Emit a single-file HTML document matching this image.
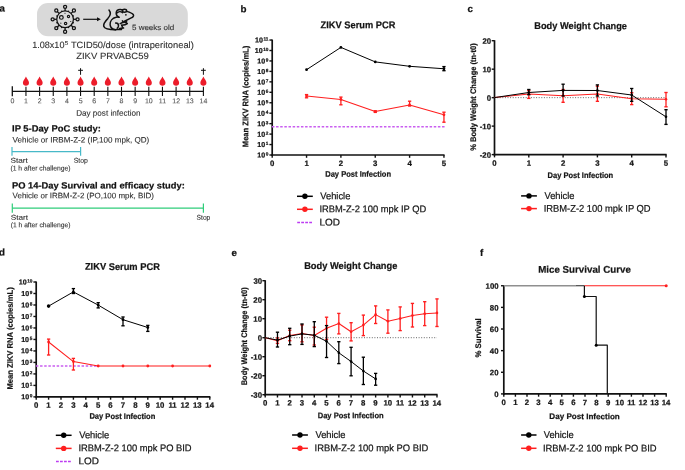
<!DOCTYPE html>
<html><head><meta charset="utf-8"><style>
html,body{margin:0;padding:0;background:#fff;width:685px;height:470px;overflow:hidden}
svg{display:block;font-family:"Liberation Sans",sans-serif;will-change:transform}
.t text{paint-order:stroke}
</style></head><body>
<svg width="685" height="470" viewBox="0 0 685 470">
<g style="will-change:transform">
<line x1="272.2" y1="39.55" x2="272.2" y2="155.9" stroke="#111" stroke-width="1.7" />
<line x1="269.4" y1="155" x2="272.2" y2="155" stroke="#111" stroke-width="1.4" />
<line x1="269.4" y1="144.55" x2="272.2" y2="144.55" stroke="#111" stroke-width="1.4" />
<line x1="269.4" y1="134.1" x2="272.2" y2="134.1" stroke="#111" stroke-width="1.4" />
<line x1="269.4" y1="123.65" x2="272.2" y2="123.65" stroke="#111" stroke-width="1.4" />
<line x1="269.4" y1="113.2" x2="272.2" y2="113.2" stroke="#111" stroke-width="1.4" />
<line x1="269.4" y1="102.75" x2="272.2" y2="102.75" stroke="#111" stroke-width="1.4" />
<line x1="269.4" y1="92.3" x2="272.2" y2="92.3" stroke="#111" stroke-width="1.4" />
<line x1="269.4" y1="81.85" x2="272.2" y2="81.85" stroke="#111" stroke-width="1.4" />
<line x1="269.4" y1="71.4" x2="272.2" y2="71.4" stroke="#111" stroke-width="1.4" />
<line x1="269.4" y1="60.95" x2="272.2" y2="60.95" stroke="#111" stroke-width="1.4" />
<line x1="269.4" y1="50.5" x2="272.2" y2="50.5" stroke="#111" stroke-width="1.4" />
<line x1="269.4" y1="40.05" x2="272.2" y2="40.05" stroke="#111" stroke-width="1.4" />
<line x1="271.35" y1="155" x2="444.55" y2="155" stroke="#111" stroke-width="1.7" />
<line x1="272.2" y1="155" x2="272.2" y2="157.8" stroke="#111" stroke-width="1.4" />
<line x1="306.55" y1="155" x2="306.55" y2="157.8" stroke="#111" stroke-width="1.4" />
<line x1="340.9" y1="155" x2="340.9" y2="157.8" stroke="#111" stroke-width="1.4" />
<line x1="375.25" y1="155" x2="375.25" y2="157.8" stroke="#111" stroke-width="1.4" />
<line x1="409.6" y1="155" x2="409.6" y2="157.8" stroke="#111" stroke-width="1.4" />
<line x1="443.95" y1="155" x2="443.95" y2="157.8" stroke="#111" stroke-width="1.4" />
<line x1="271.9" y1="126.8" x2="444.6" y2="126.8" stroke="#c95ef0" stroke-width="1.5" stroke-dasharray="2.5 1.65"/>
<polyline points="306.55,96.1 340.9,99.4 375.25,111.6 409.6,104.9 443.95,114.8" fill="none" stroke="#ff1f1f" stroke-width="1.05" stroke-linejoin="round" />
<line x1="306.55" y1="94.6" x2="306.55" y2="97.8" stroke="#ff1f1f" stroke-width="1.3" />
<line x1="304.9" y1="94.6" x2="308.2" y2="94.6" stroke="#ff1f1f" stroke-width="1.35" />
<line x1="304.9" y1="97.8" x2="308.2" y2="97.8" stroke="#ff1f1f" stroke-width="1.35" />
<circle cx="306.55" cy="96.1" r="1.4" fill="#ff1f1f"/>
<line x1="340.9" y1="97.1" x2="340.9" y2="104.8" stroke="#ff1f1f" stroke-width="1.3" />
<line x1="339.25" y1="97.1" x2="342.55" y2="97.1" stroke="#ff1f1f" stroke-width="1.35" />
<line x1="339.25" y1="104.8" x2="342.55" y2="104.8" stroke="#ff1f1f" stroke-width="1.35" />
<circle cx="340.9" cy="99.4" r="1.4" fill="#ff1f1f"/>
<line x1="375.25" y1="110.8" x2="375.25" y2="112.4" stroke="#ff1f1f" stroke-width="1.3" />
<line x1="373.6" y1="110.8" x2="376.9" y2="110.8" stroke="#ff1f1f" stroke-width="1.35" />
<line x1="373.6" y1="112.4" x2="376.9" y2="112.4" stroke="#ff1f1f" stroke-width="1.35" />
<circle cx="375.25" cy="111.6" r="1.4" fill="#ff1f1f"/>
<line x1="409.6" y1="101.2" x2="409.6" y2="106" stroke="#ff1f1f" stroke-width="1.3" />
<line x1="407.95" y1="101.2" x2="411.25" y2="101.2" stroke="#ff1f1f" stroke-width="1.35" />
<line x1="407.95" y1="106" x2="411.25" y2="106" stroke="#ff1f1f" stroke-width="1.35" />
<circle cx="409.6" cy="104.9" r="1.4" fill="#ff1f1f"/>
<line x1="443.95" y1="112.2" x2="443.95" y2="122.2" stroke="#ff1f1f" stroke-width="1.3" />
<line x1="442.3" y1="112.2" x2="445.6" y2="112.2" stroke="#ff1f1f" stroke-width="1.35" />
<line x1="442.3" y1="122.2" x2="445.6" y2="122.2" stroke="#ff1f1f" stroke-width="1.35" />
<circle cx="443.95" cy="114.8" r="1.4" fill="#ff1f1f"/>
<polyline points="306.55,69.7 340.9,47.4 375.25,61.9 409.6,66.3 443.95,68.75" fill="none" stroke="#000" stroke-width="1" stroke-linejoin="round" />
<circle cx="306.55" cy="69.7" r="1.4" fill="#000"/>
<circle cx="340.9" cy="47.4" r="1.4" fill="#000"/>
<circle cx="375.25" cy="61.9" r="1.4" fill="#000"/>
<circle cx="409.6" cy="66.3" r="1.4" fill="#000"/>
<circle cx="443.95" cy="68.75" r="1.4" fill="#000"/>
<line x1="443.95" y1="66.6" x2="443.95" y2="70.7" stroke="#000" stroke-width="1.3" />
<line x1="442.3" y1="66.6" x2="445.6" y2="66.6" stroke="#000" stroke-width="1.35" />
<line x1="442.3" y1="70.7" x2="445.6" y2="70.7" stroke="#000" stroke-width="1.35" />
<line x1="297" y1="196.3" x2="312.8" y2="196.3" stroke="#000" stroke-width="1.5" />
<circle cx="304.9" cy="196.3" r="2.7" fill="#000"/>
<line x1="297" y1="209.3" x2="312.8" y2="209.3" stroke="#ff1f1f" stroke-width="1.5" />
<circle cx="304.9" cy="209.3" r="2.7" fill="#ff1f1f"/>
<line x1="297.2" y1="222.4" x2="312.8" y2="222.4" stroke="#bd3cf2" stroke-width="1.5" stroke-dasharray="2.8 1.2"/>
<line x1="494.5" y1="40.2" x2="494.5" y2="155.5" stroke="#111" stroke-width="1.7" />
<line x1="491.7" y1="40.7" x2="494.5" y2="40.7" stroke="#111" stroke-width="1.4" />
<line x1="491.7" y1="69.18" x2="494.5" y2="69.18" stroke="#111" stroke-width="1.4" />
<line x1="491.7" y1="97.65" x2="494.5" y2="97.65" stroke="#111" stroke-width="1.4" />
<line x1="491.7" y1="126.12" x2="494.5" y2="126.12" stroke="#111" stroke-width="1.4" />
<line x1="491.7" y1="154.6" x2="494.5" y2="154.6" stroke="#111" stroke-width="1.4" />
<line x1="493.65" y1="154.6" x2="666.6" y2="154.6" stroke="#111" stroke-width="1.7" />
<line x1="494.5" y1="154.6" x2="494.5" y2="157.4" stroke="#111" stroke-width="1.4" />
<line x1="528.8" y1="154.6" x2="528.8" y2="157.4" stroke="#111" stroke-width="1.4" />
<line x1="563.1" y1="154.6" x2="563.1" y2="157.4" stroke="#111" stroke-width="1.4" />
<line x1="597.4" y1="154.6" x2="597.4" y2="157.4" stroke="#111" stroke-width="1.4" />
<line x1="631.7" y1="154.6" x2="631.7" y2="157.4" stroke="#111" stroke-width="1.4" />
<line x1="666" y1="154.6" x2="666" y2="157.4" stroke="#111" stroke-width="1.4" />
<line x1="494.5" y1="97.65" x2="666" y2="97.65" stroke="#555" stroke-width="0.9" stroke-dasharray="1 1.6"/>
<polyline points="494.5,97.6 528.8,94 563.1,95.8 597.4,94 631.7,98.7 666,99.2" fill="none" stroke="#ff1f1f" stroke-width="1.05" stroke-linejoin="round" />
<line x1="528.8" y1="90.6" x2="528.8" y2="98.4" stroke="#ff1f1f" stroke-width="1.3" />
<line x1="527.15" y1="90.6" x2="530.45" y2="90.6" stroke="#ff1f1f" stroke-width="1.35" />
<line x1="527.15" y1="98.4" x2="530.45" y2="98.4" stroke="#ff1f1f" stroke-width="1.35" />
<circle cx="528.8" cy="94" r="1.3" fill="#ff1f1f"/>
<line x1="563.1" y1="89.5" x2="563.1" y2="102.3" stroke="#ff1f1f" stroke-width="1.3" />
<line x1="561.45" y1="89.5" x2="564.75" y2="89.5" stroke="#ff1f1f" stroke-width="1.35" />
<line x1="561.45" y1="102.3" x2="564.75" y2="102.3" stroke="#ff1f1f" stroke-width="1.35" />
<circle cx="563.1" cy="95.8" r="1.3" fill="#ff1f1f"/>
<line x1="597.4" y1="86.2" x2="597.4" y2="101.3" stroke="#ff1f1f" stroke-width="1.3" />
<line x1="595.75" y1="86.2" x2="599.05" y2="86.2" stroke="#ff1f1f" stroke-width="1.35" />
<line x1="595.75" y1="101.3" x2="599.05" y2="101.3" stroke="#ff1f1f" stroke-width="1.35" />
<circle cx="597.4" cy="94" r="1.3" fill="#ff1f1f"/>
<line x1="631.7" y1="92.7" x2="631.7" y2="104.6" stroke="#ff1f1f" stroke-width="1.3" />
<line x1="630.05" y1="92.7" x2="633.35" y2="92.7" stroke="#ff1f1f" stroke-width="1.35" />
<line x1="630.05" y1="104.6" x2="633.35" y2="104.6" stroke="#ff1f1f" stroke-width="1.35" />
<circle cx="631.7" cy="98.7" r="1.3" fill="#ff1f1f"/>
<line x1="666" y1="92.5" x2="666" y2="106.8" stroke="#ff1f1f" stroke-width="1.3" />
<line x1="664.35" y1="92.5" x2="667.65" y2="92.5" stroke="#ff1f1f" stroke-width="1.35" />
<line x1="664.35" y1="106.8" x2="667.65" y2="106.8" stroke="#ff1f1f" stroke-width="1.35" />
<circle cx="666" cy="99.2" r="1.3" fill="#ff1f1f"/>
<polyline points="494.5,97.6 528.8,92.5 563.1,90.4 597.4,90.5 631.7,95 666,116.8" fill="none" stroke="#000" stroke-width="1" stroke-linejoin="round" />
<line x1="528.8" y1="89.5" x2="528.8" y2="94.7" stroke="#000" stroke-width="1.3" />
<line x1="527.15" y1="89.5" x2="530.45" y2="89.5" stroke="#000" stroke-width="1.35" />
<line x1="527.15" y1="94.7" x2="530.45" y2="94.7" stroke="#000" stroke-width="1.35" />
<circle cx="528.8" cy="92.5" r="1.3" fill="#000"/>
<line x1="563.1" y1="84.2" x2="563.1" y2="96" stroke="#000" stroke-width="1.3" />
<line x1="561.45" y1="84.2" x2="564.75" y2="84.2" stroke="#000" stroke-width="1.35" />
<line x1="561.45" y1="96" x2="564.75" y2="96" stroke="#000" stroke-width="1.35" />
<circle cx="563.1" cy="90.4" r="1.3" fill="#000"/>
<line x1="597.4" y1="84.9" x2="597.4" y2="96" stroke="#000" stroke-width="1.3" />
<line x1="595.75" y1="84.9" x2="599.05" y2="84.9" stroke="#000" stroke-width="1.35" />
<line x1="595.75" y1="96" x2="599.05" y2="96" stroke="#000" stroke-width="1.35" />
<circle cx="597.4" cy="90.5" r="1.3" fill="#000"/>
<line x1="631.7" y1="88.5" x2="631.7" y2="101.3" stroke="#000" stroke-width="1.3" />
<line x1="630.05" y1="88.5" x2="633.35" y2="88.5" stroke="#000" stroke-width="1.35" />
<line x1="630.05" y1="101.3" x2="633.35" y2="101.3" stroke="#000" stroke-width="1.35" />
<circle cx="631.7" cy="95" r="1.3" fill="#000"/>
<line x1="666" y1="109.7" x2="666" y2="124.4" stroke="#000" stroke-width="1.3" />
<line x1="664.35" y1="109.7" x2="667.65" y2="109.7" stroke="#000" stroke-width="1.35" />
<line x1="664.35" y1="124.4" x2="667.65" y2="124.4" stroke="#000" stroke-width="1.35" />
<circle cx="666" cy="116.8" r="1.3" fill="#000"/>
<line x1="521.1" y1="195.9" x2="536.9" y2="195.9" stroke="#000" stroke-width="1.5" />
<circle cx="529" cy="195.9" r="2.7" fill="#000"/>
<line x1="521.1" y1="208.6" x2="536.9" y2="208.6" stroke="#ff1f1f" stroke-width="1.5" />
<circle cx="529" cy="208.6" r="2.7" fill="#ff1f1f"/>
<line x1="36.2" y1="281.5" x2="36.2" y2="397.8" stroke="#111" stroke-width="1.7" />
<line x1="33.4" y1="396.9" x2="36.2" y2="396.9" stroke="#111" stroke-width="1.4" />
<line x1="33.4" y1="385.41" x2="36.2" y2="385.41" stroke="#111" stroke-width="1.4" />
<line x1="33.4" y1="373.92" x2="36.2" y2="373.92" stroke="#111" stroke-width="1.4" />
<line x1="33.4" y1="362.43" x2="36.2" y2="362.43" stroke="#111" stroke-width="1.4" />
<line x1="33.4" y1="350.94" x2="36.2" y2="350.94" stroke="#111" stroke-width="1.4" />
<line x1="33.4" y1="339.45" x2="36.2" y2="339.45" stroke="#111" stroke-width="1.4" />
<line x1="33.4" y1="327.96" x2="36.2" y2="327.96" stroke="#111" stroke-width="1.4" />
<line x1="33.4" y1="316.47" x2="36.2" y2="316.47" stroke="#111" stroke-width="1.4" />
<line x1="33.4" y1="304.98" x2="36.2" y2="304.98" stroke="#111" stroke-width="1.4" />
<line x1="33.4" y1="293.49" x2="36.2" y2="293.49" stroke="#111" stroke-width="1.4" />
<line x1="33.4" y1="282" x2="36.2" y2="282" stroke="#111" stroke-width="1.4" />
<line x1="35.35" y1="396.9" x2="210.4" y2="396.9" stroke="#111" stroke-width="1.7" />
<line x1="36.2" y1="396.9" x2="36.2" y2="399.7" stroke="#111" stroke-width="1.4" />
<line x1="48.6" y1="396.9" x2="48.6" y2="399.7" stroke="#111" stroke-width="1.4" />
<line x1="61" y1="396.9" x2="61" y2="399.7" stroke="#111" stroke-width="1.4" />
<line x1="73.4" y1="396.9" x2="73.4" y2="399.7" stroke="#111" stroke-width="1.4" />
<line x1="85.8" y1="396.9" x2="85.8" y2="399.7" stroke="#111" stroke-width="1.4" />
<line x1="98.2" y1="396.9" x2="98.2" y2="399.7" stroke="#111" stroke-width="1.4" />
<line x1="110.6" y1="396.9" x2="110.6" y2="399.7" stroke="#111" stroke-width="1.4" />
<line x1="123" y1="396.9" x2="123" y2="399.7" stroke="#111" stroke-width="1.4" />
<line x1="135.4" y1="396.9" x2="135.4" y2="399.7" stroke="#111" stroke-width="1.4" />
<line x1="147.8" y1="396.9" x2="147.8" y2="399.7" stroke="#111" stroke-width="1.4" />
<line x1="160.2" y1="396.9" x2="160.2" y2="399.7" stroke="#111" stroke-width="1.4" />
<line x1="172.6" y1="396.9" x2="172.6" y2="399.7" stroke="#111" stroke-width="1.4" />
<line x1="185" y1="396.9" x2="185" y2="399.7" stroke="#111" stroke-width="1.4" />
<line x1="197.4" y1="396.9" x2="197.4" y2="399.7" stroke="#111" stroke-width="1.4" />
<line x1="209.8" y1="396.9" x2="209.8" y2="399.7" stroke="#111" stroke-width="1.4" />
<line x1="35.9" y1="366" x2="209.8" y2="366" stroke="#c95ef0" stroke-width="1.5" stroke-dasharray="2.5 1.65"/>
<polyline points="48.6,342 73.4,361.6 98.2,366" fill="none" stroke="#ff1f1f" stroke-width="1.05" stroke-linejoin="round" />
<line x1="98.2" y1="366" x2="209.8" y2="366" stroke="#ff8c8c" stroke-width="2" />
<line x1="48.6" y1="339.1" x2="48.6" y2="355" stroke="#ff1f1f" stroke-width="1.3" />
<line x1="46.95" y1="339.1" x2="50.25" y2="339.1" stroke="#ff1f1f" stroke-width="1.35" />
<line x1="46.95" y1="355" x2="50.25" y2="355" stroke="#ff1f1f" stroke-width="1.35" />
<line x1="73.4" y1="358.4" x2="73.4" y2="370" stroke="#ff1f1f" stroke-width="1.3" />
<line x1="71.75" y1="358.4" x2="75.05" y2="358.4" stroke="#ff1f1f" stroke-width="1.35" />
<line x1="71.75" y1="370" x2="75.05" y2="370" stroke="#ff1f1f" stroke-width="1.35" />
<circle cx="48.6" cy="342" r="1.4" fill="#ff1f1f"/>
<circle cx="73.4" cy="361.6" r="1.4" fill="#ff1f1f"/>
<circle cx="98.2" cy="366" r="1.4" fill="#ff1f1f"/>
<circle cx="123" cy="366" r="1.4" fill="#ff1f1f"/>
<circle cx="147.8" cy="366" r="1.4" fill="#ff1f1f"/>
<circle cx="172.6" cy="366" r="1.4" fill="#ff1f1f"/>
<circle cx="209.8" cy="366" r="1.4" fill="#ff1f1f"/>
<polyline points="48.6,306.1 73.4,291.9 98.2,305.1 123,319.7 147.8,327.5" fill="none" stroke="#000" stroke-width="1" stroke-linejoin="round" />
<circle cx="48.6" cy="306.1" r="1.8" fill="#000"/>
<line x1="73.4" y1="288.6" x2="73.4" y2="293.5" stroke="#000" stroke-width="1.3" />
<line x1="71.75" y1="288.6" x2="75.05" y2="288.6" stroke="#000" stroke-width="1.35" />
<line x1="71.75" y1="293.5" x2="75.05" y2="293.5" stroke="#000" stroke-width="1.35" />
<circle cx="73.4" cy="291.9" r="1.4" fill="#000"/>
<line x1="98.2" y1="302.7" x2="98.2" y2="307.9" stroke="#000" stroke-width="1.3" />
<line x1="96.55" y1="302.7" x2="99.85" y2="302.7" stroke="#000" stroke-width="1.35" />
<line x1="96.55" y1="307.9" x2="99.85" y2="307.9" stroke="#000" stroke-width="1.35" />
<circle cx="98.2" cy="305.1" r="1.4" fill="#000"/>
<line x1="123" y1="317" x2="123" y2="325.8" stroke="#000" stroke-width="1.3" />
<line x1="121.35" y1="317" x2="124.65" y2="317" stroke="#000" stroke-width="1.35" />
<line x1="121.35" y1="325.8" x2="124.65" y2="325.8" stroke="#000" stroke-width="1.35" />
<circle cx="123" cy="319.7" r="1.4" fill="#000"/>
<line x1="147.8" y1="325.4" x2="147.8" y2="331.4" stroke="#000" stroke-width="1.3" />
<line x1="146.15" y1="325.4" x2="149.45" y2="325.4" stroke="#000" stroke-width="1.35" />
<line x1="146.15" y1="331.4" x2="149.45" y2="331.4" stroke="#000" stroke-width="1.35" />
<circle cx="147.8" cy="327.5" r="1.4" fill="#000"/>
<line x1="55.8" y1="435.3" x2="71.6" y2="435.3" stroke="#000" stroke-width="1.5" />
<circle cx="63.7" cy="435.3" r="2.7" fill="#000"/>
<line x1="55.8" y1="448.4" x2="71.6" y2="448.4" stroke="#ff1f1f" stroke-width="1.5" />
<circle cx="63.7" cy="448.4" r="2.7" fill="#ff1f1f"/>
<line x1="56" y1="461.4" x2="71.6" y2="461.4" stroke="#bd3cf2" stroke-width="1.5" stroke-dasharray="2.8 1.2"/>
<line x1="265.2" y1="280.2" x2="265.2" y2="395.6" stroke="#111" stroke-width="1.7" />
<line x1="262.4" y1="280.7" x2="265.2" y2="280.7" stroke="#111" stroke-width="1.4" />
<line x1="262.4" y1="299.7" x2="265.2" y2="299.7" stroke="#111" stroke-width="1.4" />
<line x1="262.4" y1="318.7" x2="265.2" y2="318.7" stroke="#111" stroke-width="1.4" />
<line x1="262.4" y1="337.7" x2="265.2" y2="337.7" stroke="#111" stroke-width="1.4" />
<line x1="262.4" y1="356.7" x2="265.2" y2="356.7" stroke="#111" stroke-width="1.4" />
<line x1="262.4" y1="375.7" x2="265.2" y2="375.7" stroke="#111" stroke-width="1.4" />
<line x1="262.4" y1="394.7" x2="265.2" y2="394.7" stroke="#111" stroke-width="1.4" />
<line x1="264.35" y1="394.7" x2="437.58" y2="394.7" stroke="#111" stroke-width="1.7" />
<line x1="265.2" y1="394.7" x2="265.2" y2="397.5" stroke="#111" stroke-width="1.4" />
<line x1="277.47" y1="394.7" x2="277.47" y2="397.5" stroke="#111" stroke-width="1.4" />
<line x1="289.74" y1="394.7" x2="289.74" y2="397.5" stroke="#111" stroke-width="1.4" />
<line x1="302.01" y1="394.7" x2="302.01" y2="397.5" stroke="#111" stroke-width="1.4" />
<line x1="314.28" y1="394.7" x2="314.28" y2="397.5" stroke="#111" stroke-width="1.4" />
<line x1="326.55" y1="394.7" x2="326.55" y2="397.5" stroke="#111" stroke-width="1.4" />
<line x1="338.82" y1="394.7" x2="338.82" y2="397.5" stroke="#111" stroke-width="1.4" />
<line x1="351.09" y1="394.7" x2="351.09" y2="397.5" stroke="#111" stroke-width="1.4" />
<line x1="363.36" y1="394.7" x2="363.36" y2="397.5" stroke="#111" stroke-width="1.4" />
<line x1="375.63" y1="394.7" x2="375.63" y2="397.5" stroke="#111" stroke-width="1.4" />
<line x1="387.9" y1="394.7" x2="387.9" y2="397.5" stroke="#111" stroke-width="1.4" />
<line x1="400.17" y1="394.7" x2="400.17" y2="397.5" stroke="#111" stroke-width="1.4" />
<line x1="412.44" y1="394.7" x2="412.44" y2="397.5" stroke="#111" stroke-width="1.4" />
<line x1="424.71" y1="394.7" x2="424.71" y2="397.5" stroke="#111" stroke-width="1.4" />
<line x1="436.98" y1="394.7" x2="436.98" y2="397.5" stroke="#111" stroke-width="1.4" />
<line x1="265.2" y1="337.7" x2="436.98" y2="337.7" stroke="#555" stroke-width="0.9" stroke-dasharray="1 1.6"/>
<polyline points="265.2,337.7 277.47,340.7 289.74,335.5 302.01,333.5 314.28,335.5 326.55,328.3 338.82,323.5 351.09,331.8 363.36,325.1 375.63,314.6 387.9,321.3 400.17,318.6 412.44,315.5 424.71,313.7 436.98,312.9" fill="none" stroke="#ff1f1f" stroke-width="1.05" stroke-linejoin="round" />
<line x1="277.47" y1="338" x2="277.47" y2="343.4" stroke="#ff1f1f" stroke-width="1.3" />
<line x1="275.82" y1="338" x2="279.12" y2="338" stroke="#ff1f1f" stroke-width="1.35" />
<line x1="275.82" y1="343.4" x2="279.12" y2="343.4" stroke="#ff1f1f" stroke-width="1.35" />
<circle cx="277.47" cy="340.7" r="1.3" fill="#ff1f1f"/>
<line x1="289.74" y1="330.2" x2="289.74" y2="340.7" stroke="#ff1f1f" stroke-width="1.3" />
<line x1="288.09" y1="330.2" x2="291.39" y2="330.2" stroke="#ff1f1f" stroke-width="1.35" />
<line x1="288.09" y1="340.7" x2="291.39" y2="340.7" stroke="#ff1f1f" stroke-width="1.35" />
<circle cx="289.74" cy="335.5" r="1.3" fill="#ff1f1f"/>
<line x1="302.01" y1="325" x2="302.01" y2="341.8" stroke="#ff1f1f" stroke-width="1.3" />
<line x1="300.36" y1="325" x2="303.66" y2="325" stroke="#ff1f1f" stroke-width="1.35" />
<line x1="300.36" y1="341.8" x2="303.66" y2="341.8" stroke="#ff1f1f" stroke-width="1.35" />
<circle cx="302.01" cy="333.5" r="1.3" fill="#ff1f1f"/>
<line x1="314.28" y1="327.2" x2="314.28" y2="345" stroke="#ff1f1f" stroke-width="1.3" />
<line x1="312.63" y1="327.2" x2="315.93" y2="327.2" stroke="#ff1f1f" stroke-width="1.35" />
<line x1="312.63" y1="345" x2="315.93" y2="345" stroke="#ff1f1f" stroke-width="1.35" />
<circle cx="314.28" cy="335.5" r="1.3" fill="#ff1f1f"/>
<line x1="326.55" y1="317.2" x2="326.55" y2="339.4" stroke="#ff1f1f" stroke-width="1.3" />
<line x1="324.9" y1="317.2" x2="328.2" y2="317.2" stroke="#ff1f1f" stroke-width="1.35" />
<line x1="324.9" y1="339.4" x2="328.2" y2="339.4" stroke="#ff1f1f" stroke-width="1.35" />
<circle cx="326.55" cy="328.3" r="1.3" fill="#ff1f1f"/>
<line x1="338.82" y1="313.4" x2="338.82" y2="333.9" stroke="#ff1f1f" stroke-width="1.3" />
<line x1="337.17" y1="313.4" x2="340.47" y2="313.4" stroke="#ff1f1f" stroke-width="1.35" />
<line x1="337.17" y1="333.9" x2="340.47" y2="333.9" stroke="#ff1f1f" stroke-width="1.35" />
<circle cx="338.82" cy="323.5" r="1.3" fill="#ff1f1f"/>
<line x1="351.09" y1="322.7" x2="351.09" y2="340.9" stroke="#ff1f1f" stroke-width="1.3" />
<line x1="349.44" y1="322.7" x2="352.74" y2="322.7" stroke="#ff1f1f" stroke-width="1.35" />
<line x1="349.44" y1="340.9" x2="352.74" y2="340.9" stroke="#ff1f1f" stroke-width="1.35" />
<circle cx="351.09" cy="331.8" r="1.3" fill="#ff1f1f"/>
<line x1="363.36" y1="315.1" x2="363.36" y2="335.6" stroke="#ff1f1f" stroke-width="1.3" />
<line x1="361.71" y1="315.1" x2="365.01" y2="315.1" stroke="#ff1f1f" stroke-width="1.35" />
<line x1="361.71" y1="335.6" x2="365.01" y2="335.6" stroke="#ff1f1f" stroke-width="1.35" />
<circle cx="363.36" cy="325.1" r="1.3" fill="#ff1f1f"/>
<line x1="375.63" y1="305.9" x2="375.63" y2="323.5" stroke="#ff1f1f" stroke-width="1.3" />
<line x1="373.98" y1="305.9" x2="377.28" y2="305.9" stroke="#ff1f1f" stroke-width="1.35" />
<line x1="373.98" y1="323.5" x2="377.28" y2="323.5" stroke="#ff1f1f" stroke-width="1.35" />
<circle cx="375.63" cy="314.6" r="1.3" fill="#ff1f1f"/>
<line x1="387.9" y1="309.9" x2="387.9" y2="333.2" stroke="#ff1f1f" stroke-width="1.3" />
<line x1="386.25" y1="309.9" x2="389.55" y2="309.9" stroke="#ff1f1f" stroke-width="1.35" />
<line x1="386.25" y1="333.2" x2="389.55" y2="333.2" stroke="#ff1f1f" stroke-width="1.35" />
<circle cx="387.9" cy="321.3" r="1.3" fill="#ff1f1f"/>
<line x1="400.17" y1="306.9" x2="400.17" y2="330.6" stroke="#ff1f1f" stroke-width="1.3" />
<line x1="398.52" y1="306.9" x2="401.82" y2="306.9" stroke="#ff1f1f" stroke-width="1.35" />
<line x1="398.52" y1="330.6" x2="401.82" y2="330.6" stroke="#ff1f1f" stroke-width="1.35" />
<circle cx="400.17" cy="318.6" r="1.3" fill="#ff1f1f"/>
<line x1="412.44" y1="303.4" x2="412.44" y2="327" stroke="#ff1f1f" stroke-width="1.3" />
<line x1="410.79" y1="303.4" x2="414.09" y2="303.4" stroke="#ff1f1f" stroke-width="1.35" />
<line x1="410.79" y1="327" x2="414.09" y2="327" stroke="#ff1f1f" stroke-width="1.35" />
<circle cx="412.44" cy="315.5" r="1.3" fill="#ff1f1f"/>
<line x1="424.71" y1="301.7" x2="424.71" y2="325.6" stroke="#ff1f1f" stroke-width="1.3" />
<line x1="423.06" y1="301.7" x2="426.36" y2="301.7" stroke="#ff1f1f" stroke-width="1.35" />
<line x1="423.06" y1="325.6" x2="426.36" y2="325.6" stroke="#ff1f1f" stroke-width="1.35" />
<circle cx="424.71" cy="313.7" r="1.3" fill="#ff1f1f"/>
<line x1="436.98" y1="298.9" x2="436.98" y2="326.5" stroke="#ff1f1f" stroke-width="1.3" />
<line x1="435.33" y1="298.9" x2="438.63" y2="298.9" stroke="#ff1f1f" stroke-width="1.35" />
<line x1="435.33" y1="326.5" x2="438.63" y2="326.5" stroke="#ff1f1f" stroke-width="1.35" />
<circle cx="436.98" cy="312.9" r="1.3" fill="#ff1f1f"/>
<polyline points="265.2,337.7 277.47,340.1 289.74,336.1 302.01,333.9 314.28,335.2 326.55,341.3 338.82,352.8 351.09,361.5 363.36,371 375.63,378.9" fill="none" stroke="#000" stroke-width="1" stroke-linejoin="round" />
<line x1="277.47" y1="332.2" x2="277.47" y2="347" stroke="#000" stroke-width="1.3" />
<line x1="275.82" y1="332.2" x2="279.12" y2="332.2" stroke="#000" stroke-width="1.35" />
<line x1="275.82" y1="347" x2="279.12" y2="347" stroke="#000" stroke-width="1.35" />
<circle cx="277.47" cy="340.1" r="1.3" fill="#000"/>
<line x1="289.74" y1="328.3" x2="289.74" y2="344.7" stroke="#000" stroke-width="1.3" />
<line x1="288.09" y1="328.3" x2="291.39" y2="328.3" stroke="#000" stroke-width="1.35" />
<line x1="288.09" y1="344.7" x2="291.39" y2="344.7" stroke="#000" stroke-width="1.35" />
<circle cx="289.74" cy="336.1" r="1.3" fill="#000"/>
<line x1="302.01" y1="324" x2="302.01" y2="344.4" stroke="#000" stroke-width="1.3" />
<line x1="300.36" y1="324" x2="303.66" y2="324" stroke="#000" stroke-width="1.35" />
<line x1="300.36" y1="344.4" x2="303.66" y2="344.4" stroke="#000" stroke-width="1.35" />
<circle cx="302.01" cy="333.9" r="1.3" fill="#000"/>
<line x1="314.28" y1="321.7" x2="314.28" y2="346.6" stroke="#000" stroke-width="1.3" />
<line x1="312.63" y1="321.7" x2="315.93" y2="321.7" stroke="#000" stroke-width="1.35" />
<line x1="312.63" y1="346.6" x2="315.93" y2="346.6" stroke="#000" stroke-width="1.35" />
<circle cx="314.28" cy="335.2" r="1.3" fill="#000"/>
<line x1="326.55" y1="325.6" x2="326.55" y2="357.5" stroke="#000" stroke-width="1.3" />
<line x1="324.9" y1="325.6" x2="328.2" y2="325.6" stroke="#000" stroke-width="1.35" />
<line x1="324.9" y1="357.5" x2="328.2" y2="357.5" stroke="#000" stroke-width="1.35" />
<circle cx="326.55" cy="341.3" r="1.3" fill="#000"/>
<line x1="338.82" y1="341.7" x2="338.82" y2="363.6" stroke="#000" stroke-width="1.3" />
<line x1="337.17" y1="341.7" x2="340.47" y2="341.7" stroke="#000" stroke-width="1.35" />
<line x1="337.17" y1="363.6" x2="340.47" y2="363.6" stroke="#000" stroke-width="1.35" />
<circle cx="338.82" cy="352.8" r="1.3" fill="#000"/>
<line x1="351.09" y1="347.3" x2="351.09" y2="375.8" stroke="#000" stroke-width="1.3" />
<line x1="349.44" y1="347.3" x2="352.74" y2="347.3" stroke="#000" stroke-width="1.35" />
<line x1="349.44" y1="375.8" x2="352.74" y2="375.8" stroke="#000" stroke-width="1.35" />
<circle cx="351.09" cy="361.5" r="1.3" fill="#000"/>
<line x1="363.36" y1="357.2" x2="363.36" y2="384.5" stroke="#000" stroke-width="1.3" />
<line x1="361.71" y1="357.2" x2="365.01" y2="357.2" stroke="#000" stroke-width="1.35" />
<line x1="361.71" y1="384.5" x2="365.01" y2="384.5" stroke="#000" stroke-width="1.35" />
<circle cx="363.36" cy="371" r="1.3" fill="#000"/>
<line x1="375.63" y1="373.4" x2="375.63" y2="385.2" stroke="#000" stroke-width="1.3" />
<line x1="373.98" y1="373.4" x2="377.28" y2="373.4" stroke="#000" stroke-width="1.35" />
<line x1="373.98" y1="385.2" x2="377.28" y2="385.2" stroke="#000" stroke-width="1.35" />
<circle cx="375.63" cy="378.9" r="1.3" fill="#000"/>
<line x1="292.1" y1="435" x2="307.9" y2="435" stroke="#000" stroke-width="1.5" />
<circle cx="300" cy="435" r="2.7" fill="#000"/>
<line x1="292.1" y1="448.3" x2="307.9" y2="448.3" stroke="#ff1f1f" stroke-width="1.5" />
<circle cx="300" cy="448.3" r="2.7" fill="#ff1f1f"/>
<line x1="503.8" y1="285.25" x2="503.8" y2="394.8" stroke="#111" stroke-width="1.7" />
<line x1="501" y1="285.75" x2="503.8" y2="285.75" stroke="#111" stroke-width="1.4" />
<line x1="501" y1="307.38" x2="503.8" y2="307.38" stroke="#111" stroke-width="1.4" />
<line x1="501" y1="329.01" x2="503.8" y2="329.01" stroke="#111" stroke-width="1.4" />
<line x1="501" y1="350.64" x2="503.8" y2="350.64" stroke="#111" stroke-width="1.4" />
<line x1="501" y1="372.27" x2="503.8" y2="372.27" stroke="#111" stroke-width="1.4" />
<line x1="501" y1="393.9" x2="503.8" y2="393.9" stroke="#111" stroke-width="1.4" />
<line x1="502.95" y1="393.9" x2="666.8" y2="393.9" stroke="#111" stroke-width="1.7" />
<line x1="503.8" y1="393.9" x2="503.8" y2="396.7" stroke="#111" stroke-width="1.4" />
<line x1="515.4" y1="393.9" x2="515.4" y2="396.7" stroke="#111" stroke-width="1.4" />
<line x1="527" y1="393.9" x2="527" y2="396.7" stroke="#111" stroke-width="1.4" />
<line x1="538.6" y1="393.9" x2="538.6" y2="396.7" stroke="#111" stroke-width="1.4" />
<line x1="550.2" y1="393.9" x2="550.2" y2="396.7" stroke="#111" stroke-width="1.4" />
<line x1="561.8" y1="393.9" x2="561.8" y2="396.7" stroke="#111" stroke-width="1.4" />
<line x1="573.4" y1="393.9" x2="573.4" y2="396.7" stroke="#111" stroke-width="1.4" />
<line x1="585" y1="393.9" x2="585" y2="396.7" stroke="#111" stroke-width="1.4" />
<line x1="596.6" y1="393.9" x2="596.6" y2="396.7" stroke="#111" stroke-width="1.4" />
<line x1="608.2" y1="393.9" x2="608.2" y2="396.7" stroke="#111" stroke-width="1.4" />
<line x1="619.8" y1="393.9" x2="619.8" y2="396.7" stroke="#111" stroke-width="1.4" />
<line x1="631.4" y1="393.9" x2="631.4" y2="396.7" stroke="#111" stroke-width="1.4" />
<line x1="643" y1="393.9" x2="643" y2="396.7" stroke="#111" stroke-width="1.4" />
<line x1="654.6" y1="393.9" x2="654.6" y2="396.7" stroke="#111" stroke-width="1.4" />
<line x1="666.2" y1="393.9" x2="666.2" y2="396.7" stroke="#111" stroke-width="1.4" />
<line x1="503.8" y1="285.75" x2="575.8" y2="285.75" stroke="#8f8f8f" stroke-width="1.6" />
<line x1="575.8" y1="285.75" x2="584.4" y2="285.75" stroke="#222" stroke-width="1" />
<line x1="584.4" y1="285.75" x2="666.2" y2="285.75" stroke="#ff1f1f" stroke-width="1" />
<circle cx="666.2" cy="285.75" r="1.5" fill="#ff1f1f"/>
<polyline points="584.4,285.75 584.4,296.5 596.2,296.5 596.2,345.2 607.3,345.2 607.3,393.9" fill="none" stroke="#111" stroke-width="1.2" stroke-linejoin="round" stroke-linejoin="miter"/>
<circle cx="584.4" cy="296.5" r="1.5" fill="#000"/>
<circle cx="596.2" cy="345.2" r="1.5" fill="#000"/>
<line x1="521.1" y1="435" x2="536.5" y2="435" stroke="#000" stroke-width="1.5" />
<circle cx="528.8" cy="435" r="2.7" fill="#000"/>
<line x1="521.1" y1="448.3" x2="536.5" y2="448.3" stroke="#ff1f1f" stroke-width="1.5" />
<circle cx="528.8" cy="448.3" r="2.7" fill="#ff1f1f"/>
<rect x="37" y="3.1" width="150.8" height="33.1" rx="11" ry="11" fill="#d9d9d9"/>
<g stroke="#111" fill="none" stroke-width="1.25">
<circle cx="65.1" cy="19.3" r="8.35"/>
<line x1="65.1" y1="10.9" x2="65.1" y2="8.4"/>
<circle cx="65.1" cy="6.85" r="1.55"/>
<line x1="59.16" y1="13.36" x2="57.39" y2="11.59"/>
<circle cx="56.3" cy="10.5" r="1.55"/>
<line x1="56.7" y1="19.3" x2="54.2" y2="19.3"/>
<circle cx="52.65" cy="19.3" r="1.55"/>
<line x1="59.16" y1="25.24" x2="57.39" y2="27.01"/>
<circle cx="56.3" cy="28.1" r="1.55"/>
<line x1="65.1" y1="27.7" x2="65.1" y2="30.2"/>
<circle cx="65.1" cy="31.75" r="1.55"/>
<line x1="71.04" y1="25.24" x2="72.81" y2="27.01"/>
<circle cx="73.9" cy="28.1" r="1.55"/>
<line x1="73.5" y1="19.3" x2="76" y2="19.3"/>
<circle cx="77.55" cy="19.3" r="1.55"/>
<line x1="71.04" y1="13.36" x2="72.81" y2="11.59"/>
<circle cx="73.9" cy="10.5" r="1.55"/>
<circle cx="61.36" cy="17.4" r="1.85" stroke-width="1.2"/>
<circle cx="68.5" cy="16.45" r="1.1" stroke-width="1.15"/>
<circle cx="65.6" cy="23.5" r="1.2" stroke-width="1.15"/>
</g>
<circle cx="61.69" cy="11.08" r="0.7" fill="#111"/>
<circle cx="56.88" cy="15.89" r="0.7" fill="#111"/>
<circle cx="56.88" cy="22.71" r="0.7" fill="#111"/>
<circle cx="61.69" cy="27.52" r="0.7" fill="#111"/>
<circle cx="68.51" cy="27.52" r="0.7" fill="#111"/>
<circle cx="73.32" cy="22.71" r="0.7" fill="#111"/>
<circle cx="73.32" cy="15.89" r="0.7" fill="#111"/>
<circle cx="68.51" cy="11.08" r="0.7" fill="#111"/>
<circle cx="65" cy="13.25" r="0.55" fill="#111"/>
<circle cx="60.85" cy="23.15" r="0.55" fill="#111"/>
<circle cx="70.75" cy="21.55" r="0.55" fill="#111"/>
<line x1="83.2" y1="19.3" x2="99" y2="19.3" stroke="#111" stroke-width="1.2" />
<path d="M97.0 17.3 L100.9 19.3 L97.0 21.3 Z" fill="#111"/>
<g stroke="#111" fill="none" stroke-width="1.5" stroke-linecap="round" stroke-linejoin="round">
<path d="M109.0 10.1 C111.0 12.5 110.9 15.3 107.8 18.6 C104.6 21.8 103.2 24.4 103.8 26.6 C104.6 29.0 108.0 29.8 115.6 29.8"/>
<path d="M115.6 29.8 C112.4 29.4 110.3 27.2 110.1 24.6 C109.9 21.0 112.4 18.0 116.0 17.2 C117.2 16.9 118.3 17.0 119.0 17.3"/>
<path d="M119.0 17.3 C117.2 16.3 116.0 14.6 116.2 12.8 C116.4 10.6 118.4 9.4 120.4 9.5 C121.2 9.6 122.0 9.8 122.6 10.0"/>
<ellipse cx="124.5" cy="10.7" rx="2.1" ry="1.5"/>
<path d="M126.8 11.4 C129.4 12.1 132.4 13.4 133.4 14.8 C134.0 15.9 133.0 17.0 131.2 17.9 C129.0 19.0 126.6 20.2 124.0 21.5 C125.6 22.2 126.8 23.0 127.3 23.6 C126.2 24.4 123.6 25.1 121.7 25.3"/>
<path d="M117.3 12.8 C118.4 11.6 120.8 11.3 122.6 12.6"/>
<path d="M122.4 20.9 L123.4 22.4 M120.2 23.7 L123.6 22.0 M125.0 22.4 L126.6 21.6"/>
<path d="M115.7 23.1 C117.2 23.0 118.4 24.2 118.5 25.6 C118.6 26.8 118.0 27.6 117.3 28.1"/>
<path d="M116.2 29.6 L121.5 29.6 M119.5 28.4 L123.6 28.0 M121.7 25.3 L122.8 28.0"/>
</g>
<circle cx="125.9" cy="14.8" r="0.85" fill="#111"/>
<line x1="12.3" y1="91.3" x2="203.4" y2="91.3" stroke="#111" stroke-width="1.35" />
<line x1="12.3" y1="86.3" x2="12.3" y2="96.3" stroke="#111" stroke-width="1.3" />
<line x1="25.95" y1="86.8" x2="25.95" y2="96.1" stroke="#111" stroke-width="1.1" />
<line x1="39.6" y1="86.8" x2="39.6" y2="96.1" stroke="#111" stroke-width="1.1" />
<line x1="53.25" y1="86.8" x2="53.25" y2="96.1" stroke="#111" stroke-width="1.1" />
<line x1="66.9" y1="86.8" x2="66.9" y2="96.1" stroke="#111" stroke-width="1.1" />
<line x1="80.55" y1="86.8" x2="80.55" y2="96.1" stroke="#111" stroke-width="1.1" />
<line x1="94.2" y1="86.8" x2="94.2" y2="96.1" stroke="#111" stroke-width="1.1" />
<line x1="107.85" y1="86.8" x2="107.85" y2="96.1" stroke="#111" stroke-width="1.1" />
<line x1="121.5" y1="86.8" x2="121.5" y2="96.1" stroke="#111" stroke-width="1.1" />
<line x1="135.15" y1="86.8" x2="135.15" y2="96.1" stroke="#111" stroke-width="1.1" />
<line x1="148.8" y1="86.8" x2="148.8" y2="96.1" stroke="#111" stroke-width="1.1" />
<line x1="162.45" y1="86.8" x2="162.45" y2="96.1" stroke="#111" stroke-width="1.1" />
<line x1="176.1" y1="86.8" x2="176.1" y2="96.1" stroke="#111" stroke-width="1.1" />
<line x1="189.75" y1="86.8" x2="189.75" y2="96.1" stroke="#111" stroke-width="1.1" />
<line x1="203.4" y1="86.8" x2="203.4" y2="96.1" stroke="#111" stroke-width="1.1" />
<path d="M25.95 76.6 C24.95 79.2 22.9 80.6 22.9 82.8 C22.9 85.0 24.25 85.8 25.95 85.8 C27.65 85.8 29 85.0 29 82.8 C29 80.6 26.95 79.2 25.95 76.6 Z" fill="#ec1c2a"/>
<path d="M39.6 76.6 C38.6 79.2 36.55 80.6 36.55 82.8 C36.55 85.0 37.9 85.8 39.6 85.8 C41.3 85.8 42.65 85.0 42.65 82.8 C42.65 80.6 40.6 79.2 39.6 76.6 Z" fill="#ec1c2a"/>
<path d="M53.25 76.6 C52.25 79.2 50.2 80.6 50.2 82.8 C50.2 85.0 51.55 85.8 53.25 85.8 C54.95 85.8 56.3 85.0 56.3 82.8 C56.3 80.6 54.25 79.2 53.25 76.6 Z" fill="#ec1c2a"/>
<path d="M66.9 76.6 C65.9 79.2 63.85 80.6 63.85 82.8 C63.85 85.0 65.2 85.8 66.9 85.8 C68.6 85.8 69.95 85.0 69.95 82.8 C69.95 80.6 67.9 79.2 66.9 76.6 Z" fill="#ec1c2a"/>
<path d="M80.55 76.6 C79.55 79.2 77.5 80.6 77.5 82.8 C77.5 85.0 78.85 85.8 80.55 85.8 C82.25 85.8 83.6 85.0 83.6 82.8 C83.6 80.6 81.55 79.2 80.55 76.6 Z" fill="#ec1c2a"/>
<path d="M94.2 76.6 C93.2 79.2 91.15 80.6 91.15 82.8 C91.15 85.0 92.5 85.8 94.2 85.8 C95.9 85.8 97.25 85.0 97.25 82.8 C97.25 80.6 95.2 79.2 94.2 76.6 Z" fill="#ec1c2a"/>
<path d="M107.85 76.6 C106.85 79.2 104.8 80.6 104.8 82.8 C104.8 85.0 106.15 85.8 107.85 85.8 C109.55 85.8 110.9 85.0 110.9 82.8 C110.9 80.6 108.85 79.2 107.85 76.6 Z" fill="#ec1c2a"/>
<path d="M121.5 76.6 C120.5 79.2 118.45 80.6 118.45 82.8 C118.45 85.0 119.8 85.8 121.5 85.8 C123.2 85.8 124.55 85.0 124.55 82.8 C124.55 80.6 122.5 79.2 121.5 76.6 Z" fill="#ec1c2a"/>
<path d="M135.15 76.6 C134.15 79.2 132.1 80.6 132.1 82.8 C132.1 85.0 133.45 85.8 135.15 85.8 C136.85 85.8 138.2 85.0 138.2 82.8 C138.2 80.6 136.15 79.2 135.15 76.6 Z" fill="#ec1c2a"/>
<path d="M148.8 76.6 C147.8 79.2 145.75 80.6 145.75 82.8 C145.75 85.0 147.1 85.8 148.8 85.8 C150.5 85.8 151.85 85.0 151.85 82.8 C151.85 80.6 149.8 79.2 148.8 76.6 Z" fill="#ec1c2a"/>
<path d="M162.45 76.6 C161.45 79.2 159.4 80.6 159.4 82.8 C159.4 85.0 160.75 85.8 162.45 85.8 C164.15 85.8 165.5 85.0 165.5 82.8 C165.5 80.6 163.45 79.2 162.45 76.6 Z" fill="#ec1c2a"/>
<path d="M176.1 76.6 C175.1 79.2 173.05 80.6 173.05 82.8 C173.05 85.0 174.4 85.8 176.1 85.8 C177.8 85.8 179.15 85.0 179.15 82.8 C179.15 80.6 177.1 79.2 176.1 76.6 Z" fill="#ec1c2a"/>
<path d="M189.75 76.6 C188.75 79.2 186.7 80.6 186.7 82.8 C186.7 85.0 188.05 85.8 189.75 85.8 C191.45 85.8 192.8 85.0 192.8 82.8 C192.8 80.6 190.75 79.2 189.75 76.6 Z" fill="#ec1c2a"/>
<path d="M203.4 76.6 C202.4 79.2 200.35 80.6 200.35 82.8 C200.35 85.0 201.7 85.8 203.4 85.8 C205.1 85.8 206.45 85.0 206.45 82.8 C206.45 80.6 204.4 79.2 203.4 76.6 Z" fill="#ec1c2a"/>
<line x1="80.55" y1="68.2" x2="80.55" y2="74.8" stroke="#111" stroke-width="1" />
<line x1="78.15" y1="70.3" x2="82.95" y2="70.3" stroke="#111" stroke-width="1" />
<line x1="203.4" y1="68.2" x2="203.4" y2="74.8" stroke="#111" stroke-width="1" />
<line x1="201" y1="70.3" x2="205.8" y2="70.3" stroke="#111" stroke-width="1" />
<line x1="12" y1="151.7" x2="80.6" y2="151.7" stroke="#47b9c8" stroke-width="1.3" />
<line x1="12" y1="147" x2="12" y2="155.8" stroke="#47b9c8" stroke-width="1.2" />
<line x1="80.6" y1="147" x2="80.6" y2="155.8" stroke="#47b9c8" stroke-width="1.2" />
<line x1="12.3" y1="208.1" x2="203.4" y2="208.1" stroke="#2fcd7a" stroke-width="1.3" />
<line x1="12.3" y1="203.4" x2="12.3" y2="212.8" stroke="#2fcd7a" stroke-width="1.2" />
<line x1="203.4" y1="203.4" x2="203.4" y2="212.8" stroke="#2fcd7a" stroke-width="1.2" />
<g transform="rotate(0.03 342 235)" class="t">
<text x="-0.5" y="11.8" font-size="9.7" font-weight="bold" fill="#141414" stroke="#141414" stroke-width="0.22" text-anchor="start">a</text>
<text x="240.4" y="12.3" font-size="9.8" font-weight="bold" fill="#141414" stroke="#141414" stroke-width="0.22" text-anchor="start">b</text>
<text x="467.4" y="11.9" font-size="9.8" font-weight="bold" fill="#141414" stroke="#141414" stroke-width="0.22" text-anchor="start">c</text>
<text x="-0.9" y="255.8" font-size="9.8" font-weight="bold" fill="#141414" stroke="#141414" stroke-width="0.22" text-anchor="start">d</text>
<text x="231.5" y="256" font-size="9.8" font-weight="bold" fill="#141414" stroke="#141414" stroke-width="0.22" text-anchor="start">e</text>
<text x="479.9" y="256" font-size="9.8" font-weight="bold" fill="#141414" stroke="#141414" stroke-width="0.22" text-anchor="start">f</text>
<text x="320.52" y="28.3" font-size="9.8" font-weight="bold" fill="#141414" stroke="#141414" stroke-width="0.22" textLength="74.79" lengthAdjust="spacingAndGlyphs">ZIKV Serum PCR</text>
<text x="534.18" y="29" font-size="9.8" font-weight="bold" fill="#141414" stroke="#141414" stroke-width="0.22" textLength="92.72" lengthAdjust="spacingAndGlyphs">Body Weight Change</text>
<text x="84.92" y="270" font-size="9.8" font-weight="bold" fill="#141414" stroke="#141414" stroke-width="0.22" textLength="74.99" lengthAdjust="spacingAndGlyphs">ZIKV Serum PCR</text>
<text x="304.17" y="269" font-size="9.8" font-weight="bold" fill="#141414" stroke="#141414" stroke-width="0.22" textLength="93.23" lengthAdjust="spacingAndGlyphs">Body Weight Change</text>
<text x="538.24" y="272.6" font-size="9.8" font-weight="bold" fill="#141414" stroke="#141414" stroke-width="0.22" textLength="92.7" lengthAdjust="spacingAndGlyphs">Mice Survival Curve</text>
<text x="257.22" y="157.6" font-size="7.15" font-weight="bold" fill="#141414" stroke="#141414" stroke-width="0.22">10</text>
<text x="265.78" y="155.6" font-size="4.7" font-weight="bold" fill="#141414" stroke="#141414" stroke-width="0.22">0</text>
<text x="257.26" y="147.15" font-size="7.15" font-weight="bold" fill="#141414" stroke="#141414" stroke-width="0.22">10</text>
<text x="265.72" y="145.15" font-size="4.7" font-weight="bold" fill="#141414" stroke="#141414" stroke-width="0.22">1</text>
<text x="257.18" y="136.7" font-size="7.15" font-weight="bold" fill="#141414" stroke="#141414" stroke-width="0.22">10</text>
<text x="265.77" y="134.7" font-size="4.7" font-weight="bold" fill="#141414" stroke="#141414" stroke-width="0.22">2</text>
<text x="257.11" y="126.25" font-size="7.15" font-weight="bold" fill="#141414" stroke="#141414" stroke-width="0.22">10</text>
<text x="265.76" y="124.25" font-size="4.7" font-weight="bold" fill="#141414" stroke="#141414" stroke-width="0.22">3</text>
<text x="256.94" y="115.8" font-size="7.15" font-weight="bold" fill="#141414" stroke="#141414" stroke-width="0.22">10</text>
<text x="265.62" y="113.8" font-size="4.7" font-weight="bold" fill="#141414" stroke="#141414" stroke-width="0.22">4</text>
<text x="257.11" y="105.35" font-size="7.15" font-weight="bold" fill="#141414" stroke="#141414" stroke-width="0.22">10</text>
<text x="265.72" y="103.35" font-size="4.7" font-weight="bold" fill="#141414" stroke="#141414" stroke-width="0.22">5</text>
<text x="257.18" y="94.9" font-size="7.15" font-weight="bold" fill="#141414" stroke="#141414" stroke-width="0.22">10</text>
<text x="265.76" y="92.9" font-size="4.7" font-weight="bold" fill="#141414" stroke="#141414" stroke-width="0.22">6</text>
<text x="257.24" y="84.45" font-size="7.15" font-weight="bold" fill="#141414" stroke="#141414" stroke-width="0.22">10</text>
<text x="265.79" y="82.45" font-size="4.7" font-weight="bold" fill="#141414" stroke="#141414" stroke-width="0.22">7</text>
<text x="257.13" y="74" font-size="7.15" font-weight="bold" fill="#141414" stroke="#141414" stroke-width="0.22">10</text>
<text x="265.73" y="72" font-size="4.7" font-weight="bold" fill="#141414" stroke="#141414" stroke-width="0.22">8</text>
<text x="257.17" y="63.55" font-size="7.15" font-weight="bold" fill="#141414" stroke="#141414" stroke-width="0.22">10</text>
<text x="265.76" y="61.55" font-size="4.7" font-weight="bold" fill="#141414" stroke="#141414" stroke-width="0.22">9</text>
<text x="254.71" y="53.1" font-size="7.15" font-weight="bold" fill="#141414" stroke="#141414" stroke-width="0.22">10</text>
<text x="263.17" y="51.1" font-size="4.7" font-weight="bold" fill="#141414" stroke="#141414" stroke-width="0.22">10</text>
<text x="254.91" y="42.65" font-size="7.15" font-weight="bold" fill="#141414" stroke="#141414" stroke-width="0.22">10</text>
<text x="263.37" y="40.65" font-size="4.7" font-weight="bold" fill="#141414" stroke="#141414" stroke-width="0.22">11</text>
<text x="272.2" y="166" font-size="7.8" font-weight="bold" fill="#141414" stroke="#141414" stroke-width="0.22" text-anchor="middle">0</text>
<text x="306.55" y="166" font-size="7.8" font-weight="bold" fill="#141414" stroke="#141414" stroke-width="0.22" text-anchor="middle">1</text>
<text x="340.9" y="166" font-size="7.8" font-weight="bold" fill="#141414" stroke="#141414" stroke-width="0.22" text-anchor="middle">2</text>
<text x="375.25" y="166" font-size="7.8" font-weight="bold" fill="#141414" stroke="#141414" stroke-width="0.22" text-anchor="middle">3</text>
<text x="409.6" y="166" font-size="7.8" font-weight="bold" fill="#141414" stroke="#141414" stroke-width="0.22" text-anchor="middle">4</text>
<text x="443.95" y="166" font-size="7.8" font-weight="bold" fill="#141414" stroke="#141414" stroke-width="0.22" text-anchor="middle">5</text>
<text x="325.19" y="176.8" font-size="8.1" font-weight="bold" fill="#141414" stroke="#141414" stroke-width="0.22" textLength="65.87" lengthAdjust="spacingAndGlyphs">Day Post Infection</text>
<text transform="translate(248.3 146.7) rotate(-90)" x="-0.51" font-size="8.1" font-weight="bold" fill="#141414" stroke="#141414" stroke-width="0.22" textLength="101.4" lengthAdjust="spacingAndGlyphs">Mean ZIKV RNA (copies/mL)</text>
<text x="320.25" y="199.3" font-size="9.75" font-weight="normal" fill="#141414" stroke="#141414" stroke-width="0.22" textLength="30.06" lengthAdjust="spacingAndGlyphs">Vehicle</text>
<text x="319.44" y="212.3" font-size="9.75" font-weight="normal" fill="#141414" stroke="#141414" stroke-width="0.22" textLength="106.7" lengthAdjust="spacingAndGlyphs">IRBM-Z-2 100 mpk IP QD</text>
<text x="319.48" y="225.4" font-size="9.75" font-weight="normal" fill="#141414" stroke="#141414" stroke-width="0.22" textLength="20.48" lengthAdjust="spacingAndGlyphs">LOD</text>
<text x="491" y="43.7" font-size="7.8" font-weight="bold" fill="#141414" stroke="#141414" stroke-width="0.22" text-anchor="end">20</text>
<text x="491" y="72.18" font-size="7.8" font-weight="bold" fill="#141414" stroke="#141414" stroke-width="0.22" text-anchor="end">10</text>
<text x="491" y="100.65" font-size="7.8" font-weight="bold" fill="#141414" stroke="#141414" stroke-width="0.22" text-anchor="end">0</text>
<text x="491" y="129.12" font-size="7.8" font-weight="bold" fill="#141414" stroke="#141414" stroke-width="0.22" text-anchor="end">-10</text>
<text x="491" y="157.6" font-size="7.8" font-weight="bold" fill="#141414" stroke="#141414" stroke-width="0.22" text-anchor="end">-20</text>
<text x="494.5" y="165.6" font-size="7.8" font-weight="bold" fill="#141414" stroke="#141414" stroke-width="0.22" text-anchor="middle">0</text>
<text x="528.8" y="165.6" font-size="7.8" font-weight="bold" fill="#141414" stroke="#141414" stroke-width="0.22" text-anchor="middle">1</text>
<text x="563.1" y="165.6" font-size="7.8" font-weight="bold" fill="#141414" stroke="#141414" stroke-width="0.22" text-anchor="middle">2</text>
<text x="597.4" y="165.6" font-size="7.8" font-weight="bold" fill="#141414" stroke="#141414" stroke-width="0.22" text-anchor="middle">3</text>
<text x="631.7" y="165.6" font-size="7.8" font-weight="bold" fill="#141414" stroke="#141414" stroke-width="0.22" text-anchor="middle">4</text>
<text x="666" y="165.6" font-size="7.8" font-weight="bold" fill="#141414" stroke="#141414" stroke-width="0.22" text-anchor="middle">5</text>
<text x="547.49" y="178" font-size="8.1" font-weight="bold" fill="#141414" stroke="#141414" stroke-width="0.22" textLength="65.67" lengthAdjust="spacingAndGlyphs">Day Post Infection</text>
<text transform="translate(475.9 150.4) rotate(-90)" x="-0.19" font-size="8.1" font-weight="bold" fill="#141414" stroke="#141414" stroke-width="0.22" textLength="107.46" lengthAdjust="spacingAndGlyphs">% Body Weight Change (tn-t0)</text>
<text x="544.45" y="198.9" font-size="9.75" font-weight="normal" fill="#141414" stroke="#141414" stroke-width="0.22" textLength="30.06" lengthAdjust="spacingAndGlyphs">Vehicle</text>
<text x="543.63" y="211.6" font-size="9.75" font-weight="normal" fill="#141414" stroke="#141414" stroke-width="0.22" textLength="107" lengthAdjust="spacingAndGlyphs">IRBM-Z-2 100 mpk IP QD</text>
<text x="21.32" y="399.5" font-size="7.15" font-weight="bold" fill="#141414" stroke="#141414" stroke-width="0.22">10</text>
<text x="29.88" y="397.5" font-size="4.7" font-weight="bold" fill="#141414" stroke="#141414" stroke-width="0.22">0</text>
<text x="21.36" y="388.01" font-size="7.15" font-weight="bold" fill="#141414" stroke="#141414" stroke-width="0.22">10</text>
<text x="29.82" y="386.01" font-size="4.7" font-weight="bold" fill="#141414" stroke="#141414" stroke-width="0.22">1</text>
<text x="21.28" y="376.52" font-size="7.15" font-weight="bold" fill="#141414" stroke="#141414" stroke-width="0.22">10</text>
<text x="29.87" y="374.52" font-size="4.7" font-weight="bold" fill="#141414" stroke="#141414" stroke-width="0.22">2</text>
<text x="21.21" y="365.03" font-size="7.15" font-weight="bold" fill="#141414" stroke="#141414" stroke-width="0.22">10</text>
<text x="29.86" y="363.03" font-size="4.7" font-weight="bold" fill="#141414" stroke="#141414" stroke-width="0.22">3</text>
<text x="21.03" y="353.54" font-size="7.15" font-weight="bold" fill="#141414" stroke="#141414" stroke-width="0.22">10</text>
<text x="29.71" y="351.54" font-size="4.7" font-weight="bold" fill="#141414" stroke="#141414" stroke-width="0.22">4</text>
<text x="21.21" y="342.05" font-size="7.15" font-weight="bold" fill="#141414" stroke="#141414" stroke-width="0.22">10</text>
<text x="29.82" y="340.05" font-size="4.7" font-weight="bold" fill="#141414" stroke="#141414" stroke-width="0.22">5</text>
<text x="21.28" y="330.56" font-size="7.15" font-weight="bold" fill="#141414" stroke="#141414" stroke-width="0.22">10</text>
<text x="29.86" y="328.56" font-size="4.7" font-weight="bold" fill="#141414" stroke="#141414" stroke-width="0.22">6</text>
<text x="21.34" y="319.07" font-size="7.15" font-weight="bold" fill="#141414" stroke="#141414" stroke-width="0.22">10</text>
<text x="29.89" y="317.07" font-size="4.7" font-weight="bold" fill="#141414" stroke="#141414" stroke-width="0.22">7</text>
<text x="21.23" y="307.58" font-size="7.15" font-weight="bold" fill="#141414" stroke="#141414" stroke-width="0.22">10</text>
<text x="29.83" y="305.58" font-size="4.7" font-weight="bold" fill="#141414" stroke="#141414" stroke-width="0.22">8</text>
<text x="21.27" y="296.09" font-size="7.15" font-weight="bold" fill="#141414" stroke="#141414" stroke-width="0.22">10</text>
<text x="29.86" y="294.09" font-size="4.7" font-weight="bold" fill="#141414" stroke="#141414" stroke-width="0.22">9</text>
<text x="18.81" y="284.6" font-size="7.15" font-weight="bold" fill="#141414" stroke="#141414" stroke-width="0.22">10</text>
<text x="27.27" y="282.6" font-size="4.7" font-weight="bold" fill="#141414" stroke="#141414" stroke-width="0.22">10</text>
<text x="36.2" y="407.8" font-size="7.8" font-weight="bold" fill="#141414" stroke="#141414" stroke-width="0.22" text-anchor="middle">0</text>
<text x="48.6" y="407.8" font-size="7.8" font-weight="bold" fill="#141414" stroke="#141414" stroke-width="0.22" text-anchor="middle">1</text>
<text x="61" y="407.8" font-size="7.8" font-weight="bold" fill="#141414" stroke="#141414" stroke-width="0.22" text-anchor="middle">2</text>
<text x="73.4" y="407.8" font-size="7.8" font-weight="bold" fill="#141414" stroke="#141414" stroke-width="0.22" text-anchor="middle">3</text>
<text x="85.8" y="407.8" font-size="7.8" font-weight="bold" fill="#141414" stroke="#141414" stroke-width="0.22" text-anchor="middle">4</text>
<text x="98.2" y="407.8" font-size="7.8" font-weight="bold" fill="#141414" stroke="#141414" stroke-width="0.22" text-anchor="middle">5</text>
<text x="110.6" y="407.8" font-size="7.8" font-weight="bold" fill="#141414" stroke="#141414" stroke-width="0.22" text-anchor="middle">6</text>
<text x="123" y="407.8" font-size="7.8" font-weight="bold" fill="#141414" stroke="#141414" stroke-width="0.22" text-anchor="middle">7</text>
<text x="135.4" y="407.8" font-size="7.8" font-weight="bold" fill="#141414" stroke="#141414" stroke-width="0.22" text-anchor="middle">8</text>
<text x="147.8" y="407.8" font-size="7.8" font-weight="bold" fill="#141414" stroke="#141414" stroke-width="0.22" text-anchor="middle">9</text>
<text x="160.2" y="407.8" font-size="7.8" font-weight="bold" fill="#141414" stroke="#141414" stroke-width="0.22" text-anchor="middle">10</text>
<text x="172.6" y="407.8" font-size="7.8" font-weight="bold" fill="#141414" stroke="#141414" stroke-width="0.22" text-anchor="middle">11</text>
<text x="185" y="407.8" font-size="7.8" font-weight="bold" fill="#141414" stroke="#141414" stroke-width="0.22" text-anchor="middle">12</text>
<text x="197.4" y="407.8" font-size="7.8" font-weight="bold" fill="#141414" stroke="#141414" stroke-width="0.22" text-anchor="middle">13</text>
<text x="209.8" y="407.8" font-size="7.8" font-weight="bold" fill="#141414" stroke="#141414" stroke-width="0.22" text-anchor="middle">14</text>
<text x="89.49" y="419" font-size="8.1" font-weight="bold" fill="#141414" stroke="#141414" stroke-width="0.22" textLength="65.97" lengthAdjust="spacingAndGlyphs">Day Post Infection</text>
<text transform="translate(12.8 389.2) rotate(-90)" x="-0.51" font-size="8.1" font-weight="bold" fill="#141414" stroke="#141414" stroke-width="0.22" textLength="102.21" lengthAdjust="spacingAndGlyphs">Mean ZIKV RNA (copies/mL)</text>
<text x="79.35" y="438.3" font-size="9.75" font-weight="normal" fill="#141414" stroke="#141414" stroke-width="0.22" textLength="30.06" lengthAdjust="spacingAndGlyphs">Vehicle</text>
<text x="78.54" y="451.4" font-size="9.75" font-weight="normal" fill="#141414" stroke="#141414" stroke-width="0.22" textLength="113.2" lengthAdjust="spacingAndGlyphs">IRBM-Z-2 100 mpk PO BID</text>
<text x="78.58" y="464.4" font-size="9.75" font-weight="normal" fill="#141414" stroke="#141414" stroke-width="0.22" textLength="20.48" lengthAdjust="spacingAndGlyphs">LOD</text>
<text x="262.1" y="283.7" font-size="7.8" font-weight="bold" fill="#141414" stroke="#141414" stroke-width="0.22" text-anchor="end">30</text>
<text x="262.1" y="302.7" font-size="7.8" font-weight="bold" fill="#141414" stroke="#141414" stroke-width="0.22" text-anchor="end">20</text>
<text x="262.1" y="321.7" font-size="7.8" font-weight="bold" fill="#141414" stroke="#141414" stroke-width="0.22" text-anchor="end">10</text>
<text x="262.1" y="340.7" font-size="7.8" font-weight="bold" fill="#141414" stroke="#141414" stroke-width="0.22" text-anchor="end">0</text>
<text x="262.1" y="359.7" font-size="7.8" font-weight="bold" fill="#141414" stroke="#141414" stroke-width="0.22" text-anchor="end">-10</text>
<text x="262.1" y="378.7" font-size="7.8" font-weight="bold" fill="#141414" stroke="#141414" stroke-width="0.22" text-anchor="end">-20</text>
<text x="262.1" y="397.7" font-size="7.8" font-weight="bold" fill="#141414" stroke="#141414" stroke-width="0.22" text-anchor="end">-30</text>
<text x="265.2" y="405.6" font-size="7.8" font-weight="bold" fill="#141414" stroke="#141414" stroke-width="0.22" text-anchor="middle">0</text>
<text x="277.47" y="405.6" font-size="7.8" font-weight="bold" fill="#141414" stroke="#141414" stroke-width="0.22" text-anchor="middle">1</text>
<text x="289.74" y="405.6" font-size="7.8" font-weight="bold" fill="#141414" stroke="#141414" stroke-width="0.22" text-anchor="middle">2</text>
<text x="302.01" y="405.6" font-size="7.8" font-weight="bold" fill="#141414" stroke="#141414" stroke-width="0.22" text-anchor="middle">3</text>
<text x="314.28" y="405.6" font-size="7.8" font-weight="bold" fill="#141414" stroke="#141414" stroke-width="0.22" text-anchor="middle">4</text>
<text x="326.55" y="405.6" font-size="7.8" font-weight="bold" fill="#141414" stroke="#141414" stroke-width="0.22" text-anchor="middle">5</text>
<text x="338.82" y="405.6" font-size="7.8" font-weight="bold" fill="#141414" stroke="#141414" stroke-width="0.22" text-anchor="middle">6</text>
<text x="351.09" y="405.6" font-size="7.8" font-weight="bold" fill="#141414" stroke="#141414" stroke-width="0.22" text-anchor="middle">7</text>
<text x="363.36" y="405.6" font-size="7.8" font-weight="bold" fill="#141414" stroke="#141414" stroke-width="0.22" text-anchor="middle">8</text>
<text x="375.63" y="405.6" font-size="7.8" font-weight="bold" fill="#141414" stroke="#141414" stroke-width="0.22" text-anchor="middle">9</text>
<text x="387.9" y="405.6" font-size="7.8" font-weight="bold" fill="#141414" stroke="#141414" stroke-width="0.22" text-anchor="middle">10</text>
<text x="400.17" y="405.6" font-size="7.8" font-weight="bold" fill="#141414" stroke="#141414" stroke-width="0.22" text-anchor="middle">11</text>
<text x="412.44" y="405.6" font-size="7.8" font-weight="bold" fill="#141414" stroke="#141414" stroke-width="0.22" text-anchor="middle">12</text>
<text x="424.71" y="405.6" font-size="7.8" font-weight="bold" fill="#141414" stroke="#141414" stroke-width="0.22" text-anchor="middle">13</text>
<text x="436.98" y="405.6" font-size="7.8" font-weight="bold" fill="#141414" stroke="#141414" stroke-width="0.22" text-anchor="middle">14</text>
<text x="317.79" y="418.3" font-size="8.1" font-weight="bold" fill="#141414" stroke="#141414" stroke-width="0.22" textLength="65.97" lengthAdjust="spacingAndGlyphs">Day Post Infection</text>
<text transform="translate(247.3 384.8) rotate(-90)" x="-0.5" font-size="8.1" font-weight="bold" fill="#141414" stroke="#141414" stroke-width="0.22" textLength="97.87" lengthAdjust="spacingAndGlyphs">Body Weight Change (tn-t0)</text>
<text x="315.55" y="438" font-size="9.75" font-weight="normal" fill="#141414" stroke="#141414" stroke-width="0.22" textLength="30.06" lengthAdjust="spacingAndGlyphs">Vehicle</text>
<text x="314.73" y="451.3" font-size="9.75" font-weight="normal" fill="#141414" stroke="#141414" stroke-width="0.22" textLength="113.71" lengthAdjust="spacingAndGlyphs">IRBM-Z-2 100 mpk PO BID</text>
<text x="498.6" y="288.75" font-size="7.8" font-weight="bold" fill="#141414" stroke="#141414" stroke-width="0.22" text-anchor="end">100</text>
<text x="498.6" y="310.38" font-size="7.8" font-weight="bold" fill="#141414" stroke="#141414" stroke-width="0.22" text-anchor="end">80</text>
<text x="498.6" y="332.01" font-size="7.8" font-weight="bold" fill="#141414" stroke="#141414" stroke-width="0.22" text-anchor="end">60</text>
<text x="498.6" y="353.64" font-size="7.8" font-weight="bold" fill="#141414" stroke="#141414" stroke-width="0.22" text-anchor="end">40</text>
<text x="498.6" y="375.27" font-size="7.8" font-weight="bold" fill="#141414" stroke="#141414" stroke-width="0.22" text-anchor="end">20</text>
<text x="498.6" y="396.9" font-size="7.8" font-weight="bold" fill="#141414" stroke="#141414" stroke-width="0.22" text-anchor="end">0</text>
<text x="503.8" y="405" font-size="7.8" font-weight="bold" fill="#141414" stroke="#141414" stroke-width="0.22" text-anchor="middle">0</text>
<text x="515.4" y="405" font-size="7.8" font-weight="bold" fill="#141414" stroke="#141414" stroke-width="0.22" text-anchor="middle">1</text>
<text x="527" y="405" font-size="7.8" font-weight="bold" fill="#141414" stroke="#141414" stroke-width="0.22" text-anchor="middle">2</text>
<text x="538.6" y="405" font-size="7.8" font-weight="bold" fill="#141414" stroke="#141414" stroke-width="0.22" text-anchor="middle">3</text>
<text x="550.2" y="405" font-size="7.8" font-weight="bold" fill="#141414" stroke="#141414" stroke-width="0.22" text-anchor="middle">4</text>
<text x="561.8" y="405" font-size="7.8" font-weight="bold" fill="#141414" stroke="#141414" stroke-width="0.22" text-anchor="middle">5</text>
<text x="573.4" y="405" font-size="7.8" font-weight="bold" fill="#141414" stroke="#141414" stroke-width="0.22" text-anchor="middle">6</text>
<text x="585" y="405" font-size="7.8" font-weight="bold" fill="#141414" stroke="#141414" stroke-width="0.22" text-anchor="middle">7</text>
<text x="596.6" y="405" font-size="7.8" font-weight="bold" fill="#141414" stroke="#141414" stroke-width="0.22" text-anchor="middle">8</text>
<text x="608.2" y="405" font-size="7.8" font-weight="bold" fill="#141414" stroke="#141414" stroke-width="0.22" text-anchor="middle">9</text>
<text x="619.8" y="405" font-size="7.8" font-weight="bold" fill="#141414" stroke="#141414" stroke-width="0.22" text-anchor="middle">10</text>
<text x="631.4" y="405" font-size="7.8" font-weight="bold" fill="#141414" stroke="#141414" stroke-width="0.22" text-anchor="middle">11</text>
<text x="643" y="405" font-size="7.8" font-weight="bold" fill="#141414" stroke="#141414" stroke-width="0.22" text-anchor="middle">12</text>
<text x="654.6" y="405" font-size="7.8" font-weight="bold" fill="#141414" stroke="#141414" stroke-width="0.22" text-anchor="middle">13</text>
<text x="666.2" y="405" font-size="7.8" font-weight="bold" fill="#141414" stroke="#141414" stroke-width="0.22" text-anchor="middle">14</text>
<text x="549.45" y="419" font-size="8.1" font-weight="bold" fill="#141414" stroke="#141414" stroke-width="0.22" textLength="70.44" lengthAdjust="spacingAndGlyphs">Day Post Infection</text>
<text transform="translate(481 357.3) rotate(-90)" x="-0.19" font-size="8.1" font-weight="bold" fill="#141414" stroke="#141414" stroke-width="0.22" textLength="39.35" lengthAdjust="spacingAndGlyphs">% Survival</text>
<text x="543.85" y="438" font-size="9.75" font-weight="normal" fill="#141414" stroke="#141414" stroke-width="0.22" textLength="30.06" lengthAdjust="spacingAndGlyphs">Vehicle</text>
<text x="543.03" y="451.3" font-size="9.75" font-weight="normal" fill="#141414" stroke="#141414" stroke-width="0.22" textLength="113.71" lengthAdjust="spacingAndGlyphs">IRBM-Z-2 100 mpk PO BID</text>
<text x="131.88" y="30.2" font-size="7.5" font-weight="normal" fill="#2e2e2e" stroke="#2e2e2e" stroke-width="0.1" textLength="42.23" lengthAdjust="spacingAndGlyphs">5 weeks old</text>
<text x="32.12" y="48.1" font-size="9.1" font-weight="normal" fill="#2e2e2e" stroke="#2e2e2e" stroke-width="0.1" textLength="32.23" lengthAdjust="spacingAndGlyphs">1.08x10</text>
<text x="64.59" y="45" font-size="5.3" font-weight="normal" fill="#2e2e2e" stroke="#2e2e2e" stroke-width="0.1" textLength="3.57" lengthAdjust="spacingAndGlyphs">5</text>
<text x="70.79" y="48.1" font-size="9.1" font-weight="normal" fill="#2e2e2e" stroke="#2e2e2e" stroke-width="0.1" textLength="122.88" lengthAdjust="spacingAndGlyphs">TCID50/dose (intraperitoneal)</text>
<text x="76.09" y="59.1" font-size="9.1" font-weight="normal" fill="#2e2e2e" stroke="#2e2e2e" stroke-width="0.1" textLength="72.54" lengthAdjust="spacingAndGlyphs">ZIKV PRVABC59</text>
<text x="12.3" y="103.4" font-size="7.0" fill="#555" stroke="#555" stroke-width="0.1" text-anchor="middle">0</text>
<text x="25.95" y="103.4" font-size="7.0" fill="#555" stroke="#555" stroke-width="0.1" text-anchor="middle">1</text>
<text x="39.6" y="103.4" font-size="7.0" fill="#555" stroke="#555" stroke-width="0.1" text-anchor="middle">2</text>
<text x="53.25" y="103.4" font-size="7.0" fill="#555" stroke="#555" stroke-width="0.1" text-anchor="middle">3</text>
<text x="66.9" y="103.4" font-size="7.0" fill="#555" stroke="#555" stroke-width="0.1" text-anchor="middle">4</text>
<text x="80.55" y="103.4" font-size="7.0" fill="#555" stroke="#555" stroke-width="0.1" text-anchor="middle">5</text>
<text x="94.2" y="103.4" font-size="7.0" fill="#555" stroke="#555" stroke-width="0.1" text-anchor="middle">6</text>
<text x="107.85" y="103.4" font-size="7.0" fill="#555" stroke="#555" stroke-width="0.1" text-anchor="middle">7</text>
<text x="121.5" y="103.4" font-size="7.0" fill="#555" stroke="#555" stroke-width="0.1" text-anchor="middle">8</text>
<text x="135.15" y="103.4" font-size="7.0" fill="#555" stroke="#555" stroke-width="0.1" text-anchor="middle">9</text>
<text x="148.8" y="103.4" font-size="7.0" fill="#555" stroke="#555" stroke-width="0.1" text-anchor="middle">10</text>
<text x="162.45" y="103.4" font-size="7.0" fill="#555" stroke="#555" stroke-width="0.1" text-anchor="middle">11</text>
<text x="176.1" y="103.4" font-size="7.0" fill="#555" stroke="#555" stroke-width="0.1" text-anchor="middle">12</text>
<text x="189.75" y="103.4" font-size="7.0" fill="#555" stroke="#555" stroke-width="0.1" text-anchor="middle">13</text>
<text x="203.4" y="103.4" font-size="7.0" fill="#555" stroke="#555" stroke-width="0.1" text-anchor="middle">14</text>
<text x="76.13" y="115.8" font-size="8.1" font-weight="normal" fill="#2e2e2e" stroke="#2e2e2e" stroke-width="0.1" textLength="64.39" lengthAdjust="spacingAndGlyphs">Day post infection</text>
<text x="11.97" y="131.7" font-size="9" font-weight="bold" fill="#111" stroke="#111" stroke-width="0.22" textLength="88.84" lengthAdjust="spacingAndGlyphs">IP 5-Day PoC study:</text>
<text x="12.56" y="142.6" font-size="7.9" font-weight="normal" fill="#2e2e2e" stroke="#2e2e2e" stroke-width="0.1" textLength="136.64" lengthAdjust="spacingAndGlyphs">Vehicle or IRBM-Z-2 (IP,100 mpk, QD)</text>
<text x="10.43" y="163" font-size="7" font-weight="normal" fill="#2e2e2e" stroke="#2e2e2e" stroke-width="0.1" textLength="17.43" lengthAdjust="spacingAndGlyphs">Start</text>
<text x="73.69" y="163" font-size="7" font-weight="normal" fill="#2e2e2e" stroke="#2e2e2e" stroke-width="0.1" textLength="14.1" lengthAdjust="spacingAndGlyphs">Stop</text>
<text x="10.38" y="170.6" font-size="7" font-weight="normal" fill="#2e2e2e" stroke="#2e2e2e" stroke-width="0.1" textLength="60.02" lengthAdjust="spacingAndGlyphs">(1 h after challenge)</text>
<text x="11.97" y="188.6" font-size="9" font-weight="bold" fill="#111" stroke="#111" stroke-width="0.22" textLength="172.82" lengthAdjust="spacingAndGlyphs">PO 14-Day Survival and efficacy study:</text>
<text x="12.56" y="198.4" font-size="7.9" font-weight="normal" fill="#2e2e2e" stroke="#2e2e2e" stroke-width="0.1" textLength="141.32" lengthAdjust="spacingAndGlyphs">Vehicle or IRBM-Z-2 (PO,100 mpk, BID)</text>
<text x="10.73" y="219.9" font-size="7" font-weight="normal" fill="#2e2e2e" stroke="#2e2e2e" stroke-width="0.1" textLength="17.43" lengthAdjust="spacingAndGlyphs">Start</text>
<text x="196.6" y="219.8" font-size="7" font-weight="normal" fill="#2e2e2e" stroke="#2e2e2e" stroke-width="0.1" textLength="13.68" lengthAdjust="spacingAndGlyphs">Stop</text>
<text x="10.68" y="227.5" font-size="7" font-weight="normal" fill="#2e2e2e" stroke="#2e2e2e" stroke-width="0.1" textLength="59.82" lengthAdjust="spacingAndGlyphs">(1 h after challenge)</text>
</g>
</g></svg></body></html>
